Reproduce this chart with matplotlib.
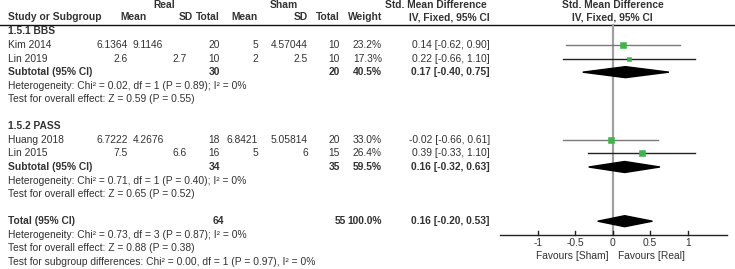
import matplotlib
matplotlib.use("Agg")
import matplotlib.pyplot as plt
from matplotlib.patches import Polygon
import numpy as np

# ---------------- data ----------------
studies = ["Kim 2014", "Lin 2019", "Huang 2018", "Lin 2015"]
groups = ["1.5.1 BBS", "1.5.2 PASS"]
study_group = [0, 0, 1, 1]
real_mean = [6.1364, 2.6, 6.7222, 7.5]
real_sd = [9.1146, 2.7, 4.2676, 6.6]
real_n = [20, 10, 18, 16]
sham_mean = [5, 2, 6.8421, 5]
sham_sd = [4.57044, 2.5, 5.05814, 6]
sham_n = [10, 10, 20, 15]
weights = [23.2, 17.3, 33.0, 26.4]
smd = [0.14, 0.22, -0.02, 0.39]
ci_lo = [-0.62, -0.66, -0.66, -0.33]
ci_hi = [0.90, 1.10, 0.61, 1.10]

sub_real_n = [30, 34]
sub_sham_n = [20, 35]
sub_weight = [40.5, 59.5]
sub_smd = [0.17, 0.16]
sub_lo = [-0.40, -0.32]
sub_hi = [0.75, 0.63]
sub_het = ["Heterogeneity: Chi² = 0.02, df = 1 (P = 0.89); I² = 0%",
           "Heterogeneity: Chi² = 0.71, df = 1 (P = 0.40); I² = 0%"]
sub_test = ["Test for overall effect: Z = 0.59 (P = 0.55)",
            "Test for overall effect: Z = 0.65 (P = 0.52)"]

tot_real_n = 64
tot_sham_n = 55
tot_weight = 100.0
tot_smd = 0.16
tot_lo = -0.20
tot_hi = 0.53
tot_lines = ["Heterogeneity: Chi² = 0.73, df = 3 (P = 0.87); I² = 0%",
             "Test for overall effect: Z = 0.88 (P = 0.38)",
             "Test for subgroup differences: Chi² = 0.00, df = 1 (P = 0.97), I² = 0%"]

axis_ticks = [-1, -0.5, 0, 0.5, 1]
axis_ticklabels = ["-1", "-0.5", "0", "0.5", "1"]
favours = ["Favours [Sham]", "Favours [Real]"]

# ---------------- layout ----------------
W, H = 735, 269
fig = plt.figure(figsize=(W / 100, H / 100), dpi=100)
ax = fig.add_axes([0, 0, 1, 1])
ax.set_xlim(0, W)
ax.set_ylim(H, 0)
ax.axis("off")

X0 = 612.7      # pixel of SMD = 0
PPU = 75.0      # pixels per SMD unit
fx = fig.add_axes([0, 0, 1, 1])
fx.set_xlim((0 - X0) / PPU, (W - X0) / PPU)
fx.set_ylim(H, 0)
fx.axis("off")
fx.patch.set_alpha(0)

plt.rcParams["font.family"] = ["Liberation Sans", "DejaVu Sans"]
FS = 7.4
TC = "#333333"


def t(x, y, s, ha="left", bold=False, **kw):
    ax.text(x, y, s, ha=ha, va="center", fontsize=FS, color=TC,
            fontweight="bold" if bold else "normal", **kw)


def fmt(v):
    return f"{v:g}"


# column positions (pixels)
C_NAME = 8
C_RMEAN = 128
C_RSD_R = 187
C_RSD_L = 133
C_RN = 220
C_SMEAN = 258
C_SSD = 308
C_SN = 340
C_W = 382
C_CI = 490

Y0, DY = 31.5, 13.55
def row(i):
    return Y0 + DY * i

# headers
t(164, 5, "Real", ha="center", bold=True)
t(284, 5, "Sham", ha="center", bold=True)
t(487, 5, "Std. Mean Difference", ha="right", bold=True)
t(612.5, 5, "Std. Mean Difference", ha="center", bold=True)
hy = 17
t(C_NAME, hy, "Study or Subgroup", bold=True)
t(147, hy, "Mean", ha="right", bold=True)
t(193, hy, "SD", ha="right", bold=True)
t(C_RN, hy, "Total", ha="right", bold=True)
t(C_SMEAN, hy, "Mean", ha="right", bold=True)
t(C_SSD, hy, "SD", ha="right", bold=True)
t(C_SN, hy, "Total", ha="right", bold=True)
t(C_W, hy, "Weight", ha="right", bold=True)
t(C_CI, hy, "IV, Fixed, 95% CI", ha="right", bold=True)
t(612.5, hy, "IV, Fixed, 95% CI", ha="center", bold=True)
ax.plot([0, W], [24.5, 24.5], color="#111111", lw=1.0)

# zero line
fx.plot([0, 0], [24.5, 235], color="#a0a0a0", lw=1.6, zorder=1)

r = 0
for g, gname in enumerate(groups):
    t(C_NAME, row(r), gname, bold=True)
    r += 1
    for i in range(len(studies)):
        if study_group[i] != g:
            continue
        y = row(r)
        t(C_NAME, y, studies[i])
        t(C_RMEAN, y, fmt(real_mean[i]), ha="right")
        sd = fmt(real_sd[i])
        if len(sd) > 4:
            t(C_RSD_L, y, sd, ha="left")
        else:
            t(C_RSD_R, y, sd, ha="right")
        t(C_RN, y, str(real_n[i]), ha="right")
        t(C_SMEAN, y, fmt(sham_mean[i]), ha="right")
        t(C_SSD, y, fmt(sham_sd[i]), ha="right")
        t(C_SN, y, str(sham_n[i]), ha="right")
        t(C_W, y, f"{weights[i]:.1f}%", ha="right")
        t(C_CI, y, f"{smd[i]:.2f} [{ci_lo[i]:.2f}, {ci_hi[i]:.2f}]", ha="right")
        lc = "#7a7a7a" if i % 2 == 0 else "#222222"
        fx.plot([ci_lo[i], ci_hi[i]], [y, y], color=lc, lw=1.0, zorder=2)
        ms = 1.2 * np.sqrt(weights[i]) * 0.72
        fx.plot([smd[i]], [y], marker="s", ms=ms, color="#3db54a",
                mec="#3db54a", mew=0.4, zorder=3)
        r += 1
    y = row(r)
    t(C_NAME, y, "Subtotal (95% CI)", bold=True)
    t(C_RN, y, str(sub_real_n[g]), ha="right", bold=True)
    t(C_SN, y, str(sub_sham_n[g]), ha="right", bold=True)
    t(C_W, y, f"{sub_weight[g]:.1f}%", ha="right", bold=True)
    t(C_CI, y, f"{sub_smd[g]:.2f} [{sub_lo[g]:.2f}, {sub_hi[g]:.2f}]", ha="right", bold=True)
    fx.add_patch(Polygon([(sub_lo[g], y), (sub_smd[g], y - 5.5), (sub_hi[g], y),
                          (sub_smd[g], y + 5.5)], closed=True, color="black", zorder=3))
    r += 1
    t(C_NAME, row(r), sub_het[g]); r += 1
    t(C_NAME, row(r), sub_test[g]); r += 1
    r += 1

y = row(r)
t(C_NAME, y, "Total (95% CI)", bold=True)
t(C_RN + 4, y, str(tot_real_n), ha="right", bold=True)
t(C_SN + 6, y, str(tot_sham_n), ha="right", bold=True)
t(C_W, y, f"{tot_weight:.1f}%", ha="right", bold=True)
t(C_CI, y, f"{tot_smd:.2f} [{tot_lo:.2f}, {tot_hi:.2f}]", ha="right", bold=True)
fx.add_patch(Polygon([(tot_lo, y), (tot_smd, y - 5.5), (tot_hi, y),
                      (tot_smd, y + 5.5)], closed=True, color="black", zorder=3))
r += 1
for line in tot_lines:
    t(C_NAME, row(r), line)
    r += 1

# axis
AY = 235
fx.plot([(500 - X0) / PPU, (727 - X0) / PPU], [AY, AY], color="#222222", lw=1.0)
for tv, tl in zip(axis_ticks, axis_ticklabels):
    fx.plot([tv, tv], [AY, AY - 4], color="#222222", lw=1.0)
    fx.text(tv, 243.5, tl, ha="center", va="center", fontsize=FS, color=TC)
fx.text(-0.06, 256, favours[0], ha="right", va="center", fontsize=FS, color=TC)
fx.text(0.07, 256, favours[1], ha="left", va="center", fontsize=FS, color=TC)

fig.savefig("out.png", dpi=100)
